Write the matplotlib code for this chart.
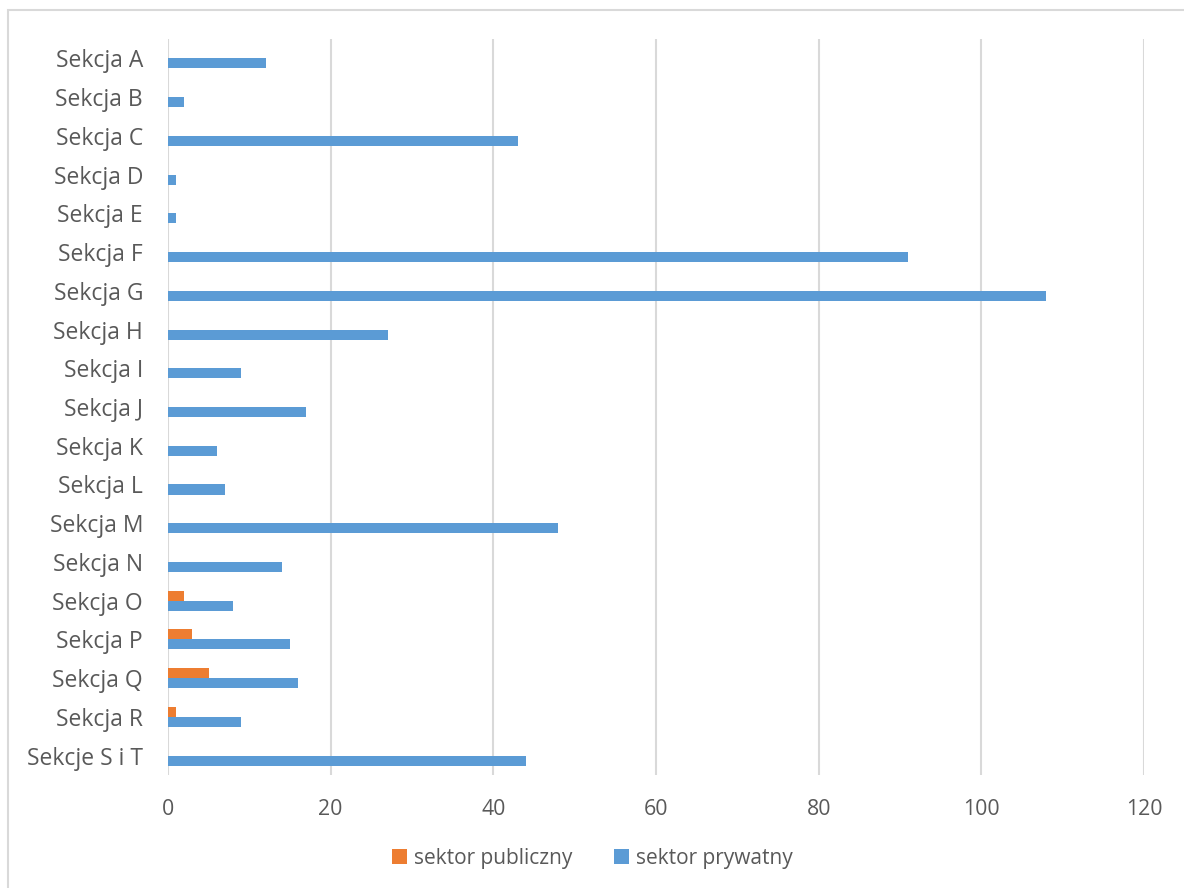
import numpy as np
import matplotlib.pyplot as plt
from matplotlib.patches import Rectangle

sekcje = ['Sekcja A', 'Sekcja B', 'Sekcja C', 'Sekcja D', 'Sekcja E', 'Sekcja F',
          'Sekcja G', 'Sekcja H', 'Sekcja I', 'Sekcja J', 'Sekcja K', 'Sekcja L',
          'Sekcja M', 'Sekcja N', 'Sekcja O', 'Sekcja P', 'Sekcja Q', 'Sekcja R',
          'Sekcje S i T']
publiczny = [0, 0, 0, 0, 0, 0, 0, 0, 0, 0, 0, 0, 0, 0, 2, 3, 5, 1, 0]
prywatny = [12, 2, 43, 1, 1, 91, 108, 27, 9, 17, 6, 7, 48, 14, 8, 15, 16, 9, 44]

plt.rcParams['font.family'] = ['Open Sans', 'DejaVu Sans']
szary = '#595959'

fig = plt.figure(figsize=(11.84, 8.88), dpi=100)
ax = fig.add_axes([168 / 1184, 1 - 775 / 888, 976 / 1184, 736 / 888])

y = np.arange(len(sekcje))
h = 0.26
ax.barh(y - h / 2, publiczny, height=h, color='#ED7D31', label='sektor publiczny')
ax.barh(y + h / 2, prywatny, height=h, color='#5B9BD5', label='sektor prywatny')

ax.set_xlim(0, 120)
ax.set_ylim(len(sekcje) - 0.5, -0.5)
ax.set_xticks(range(0, 121, 20))
ax.set_yticks(y)
ax.set_yticklabels(sekcje)
ax.tick_params(axis='both', length=0, labelcolor=szary)
ax.tick_params(axis='x', pad=17, labelsize=15.3)
ax.tick_params(axis='y', pad=18, labelsize=16.5)
ax.xaxis.grid(True, color='#D9D9D9', linewidth=1.5)
ax.set_axisbelow(True)
for s in ax.spines.values():
    s.set_visible(False)

fig.legend(loc='center', bbox_to_anchor=(0.5, 1 - 858 / 888), ncol=2, frameon=False,
           fontsize=15, labelcolor=szary, handlelength=0.75, handleheight=0.75,
           handletextpad=0.3, columnspacing=2.0)

# ramka wykresu
fig.patches.append(Rectangle((8 / 1184, -0.1), 1.2, 1 - 10 / 888 + 0.1,
                             transform=fig.transFigure, fill=False,
                             edgecolor='#D9D9D9', linewidth=1.5))

fig.savefig('out.png', dpi=100)
